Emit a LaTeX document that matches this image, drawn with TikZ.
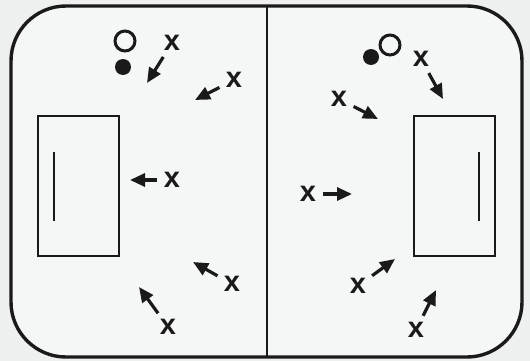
\documentclass[tikz,border=0pt]{standalone}
\usepackage{fontspec}
\setmainfont{Liberation Sans}
\usepackage{tikz}
\usetikzlibrary{arrows.meta,positioning}
\definecolor{RinkInk}{HTML}{1A1A1A}
\definecolor{RinkIce}{HTML}{F5F6F6}
\definecolor{RinkEdge}{HTML}{EEF0F0}
\tikzset{
  boards/.style={draw=RinkInk,line width=3.4pt,rounded corners=55pt,fill=RinkIce},
  crease/.style={draw=RinkInk,line width=2.3pt},
  goalbar/.style={draw=RinkInk,line width=2.8pt},
  skater/.style={font=\fontsize{29}{30}\selectfont\bfseries,text=RinkInk,inner sep=1pt},
  move/.style={-{Triangle[length=15pt,width=13pt]},draw=RinkInk,line width=3.2pt,shorten <=6pt},
  puck/.style={circle,fill=RinkInk,minimum size=16pt,inner sep=0pt},
  coach/.style={circle,draw=RinkInk,line width=3pt,minimum size=20pt,inner sep=0pt}
}

\begin{document}
\begin{tikzpicture}[x=1pt,y=-1pt]
  \useasboundingbox[fill=RinkEdge] (0,0) rectangle (530,361);
  \path[boards] (11,6) rectangle (522,357);
  \draw[crease] (267,6) -- (267,357);
  \draw[crease] (38,116) rectangle (119,256);
  \draw[goalbar] (54,152) -- (54,221);
  \draw[crease] (414,116) rectangle (495,256);
  \draw[goalbar] (479,152) -- (479,221);

  \node[coach] (coachL) at (125,41) {};
  \node[puck] (puckL) at (123,67) {};
  \node[coach] (coachR) at (390,45) {};
  \node[puck] (puckR) at (371,57) {};

  \node[skater] (xa) at (172,43) {x};
  \node[skater] (xb) at (234,80) {x};
  \node[skater] (xc) at (172,180) {x};
  \node[skater] (xd) at (232,284) {x};
  \node[skater] (xe) at (168,327) {x};
  \node[skater] (xf) at (421,59) {x};
  \node[skater] (xg) at (339,99) {x};
  \node[skater] (xh) at (308,194) {x};
  \node[skater] (xi) at (358,286) {x};
  \node[skater] (xj) at (416,330) {x};

  \coordinate (ta) at (147,83);
  \coordinate (tb) at (195,100);
  \coordinate (tc) at (130,180);
  \coordinate (td) at (193,262);
  \coordinate (te) at (139,287);
  \coordinate (tf) at (443,99);
  \coordinate (tg) at (378,119);
  \coordinate (th) at (352,194);
  \coordinate (ti) at (395,259);
  \coordinate (tj) at (436,290);

  \foreach \k in {a,b,c,d,e,f,g,h,i,j}
    \draw[move] (x\k) -- (t\k);
\end{tikzpicture}
\end{document}
